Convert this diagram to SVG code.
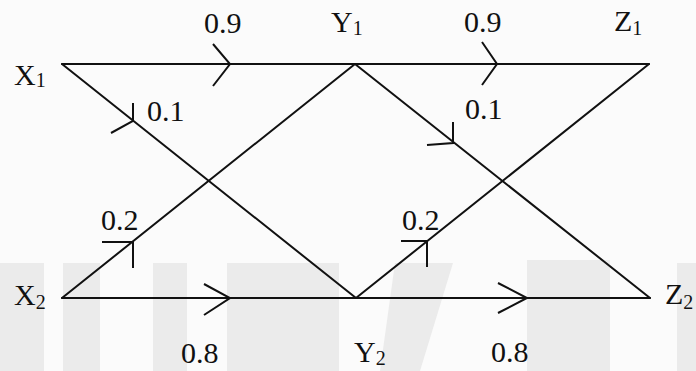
<svg xmlns="http://www.w3.org/2000/svg" width="696" height="371" viewBox="0 0 696 371">
<style>
.bg{fill:#fbfbfb}
.wm{fill:#ebebeb}
.edge{stroke:#111;stroke-width:2;fill:none;stroke-linecap:round;stroke-linejoin:miter}
.head{stroke:#111;stroke-width:2;fill:none;stroke-linecap:butt}
.lbl{font-family:"Liberation Serif","Times New Roman",serif;font-size:30px;fill:#111}
.sub{font-size:20px}
</style>
<rect class="bg" x="0" y="0" width="696" height="371"/>
<g id="watermark">
<rect class="wm" x="0" y="263" width="44" height="108"/>
<rect class="wm" x="63" y="263" width="37" height="108"/>
<rect class="wm" x="153" y="263" width="34" height="108"/>
<rect class="wm" x="227" y="263" width="112" height="108"/>
<polygon class="wm" points="395,263 453,263 420,371 380,371"/>
<rect class="wm" x="527" y="260" width="83" height="111"/>
<rect class="wm" x="677" y="263" width="19" height="108"/>
</g>
<g id="connectors">
<line class="edge" x1="62" y1="64" x2="355" y2="64"/>
<line class="edge" x1="355" y1="64" x2="649" y2="64"/>
<line class="edge" x1="62" y1="298" x2="356" y2="298"/>
<line class="edge" x1="356" y1="298" x2="650" y2="298"/>
<line class="edge" x1="62" y1="64" x2="356" y2="298"/>
<line class="edge" x1="62" y1="298" x2="355" y2="64"/>
<line class="edge" x1="355" y1="64" x2="650" y2="298"/>
<line class="edge" x1="356" y1="298" x2="649" y2="64"/>
<polyline class="head" points="213,44 230,64 213,86"/>
<polyline class="head" points="482,42 497,64 482,85"/>
<polyline class="head" points="133,103 133,121 111,133"/>
<polyline class="head" points="453,122 453,143 427,145"/>
<polyline class="head" points="102,242 133,242 133,268"/>
<polyline class="head" points="401,241 427,241 427,267"/>
<polyline class="head" points="204,284 230,298 204,315"/>
<polyline class="head" points="498,283 527,298 498,313"/>
<text class="lbl" x="204" y="33">0.9</text>
<text class="lbl" x="464" y="32">0.9</text>
<text class="lbl" x="147" y="121">0.1</text>
<text class="lbl" x="465" y="119">0.1</text>
<text class="lbl" x="101" y="230">0.2</text>
<text class="lbl" x="402" y="230">0.2</text>
<text class="lbl" x="181" y="363">0.8</text>
<text class="lbl" x="491" y="362">0.8</text>
</g>
<g id="X1"><text class="lbl" x="14" y="85">X<tspan class="sub" dy="2">1</tspan></text></g>
<g id="Y1"><text class="lbl" x="331" y="32">Y<tspan class="sub" dy="3">1</tspan></text></g>
<g id="Z1"><text class="lbl" x="614" y="31">Z<tspan class="sub" dy="4">1</tspan></text></g>
<g id="X2"><text class="lbl" x="14" y="305">X<tspan class="sub" dy="4">2</tspan></text></g>
<g id="Y2"><text class="lbl" x="354" y="362">Y<tspan class="sub" dy="3">2</tspan></text></g>
<g id="Z2"><text class="lbl" x="665" y="304">Z<tspan class="sub" dy="5">2</tspan></text></g>
</svg>
